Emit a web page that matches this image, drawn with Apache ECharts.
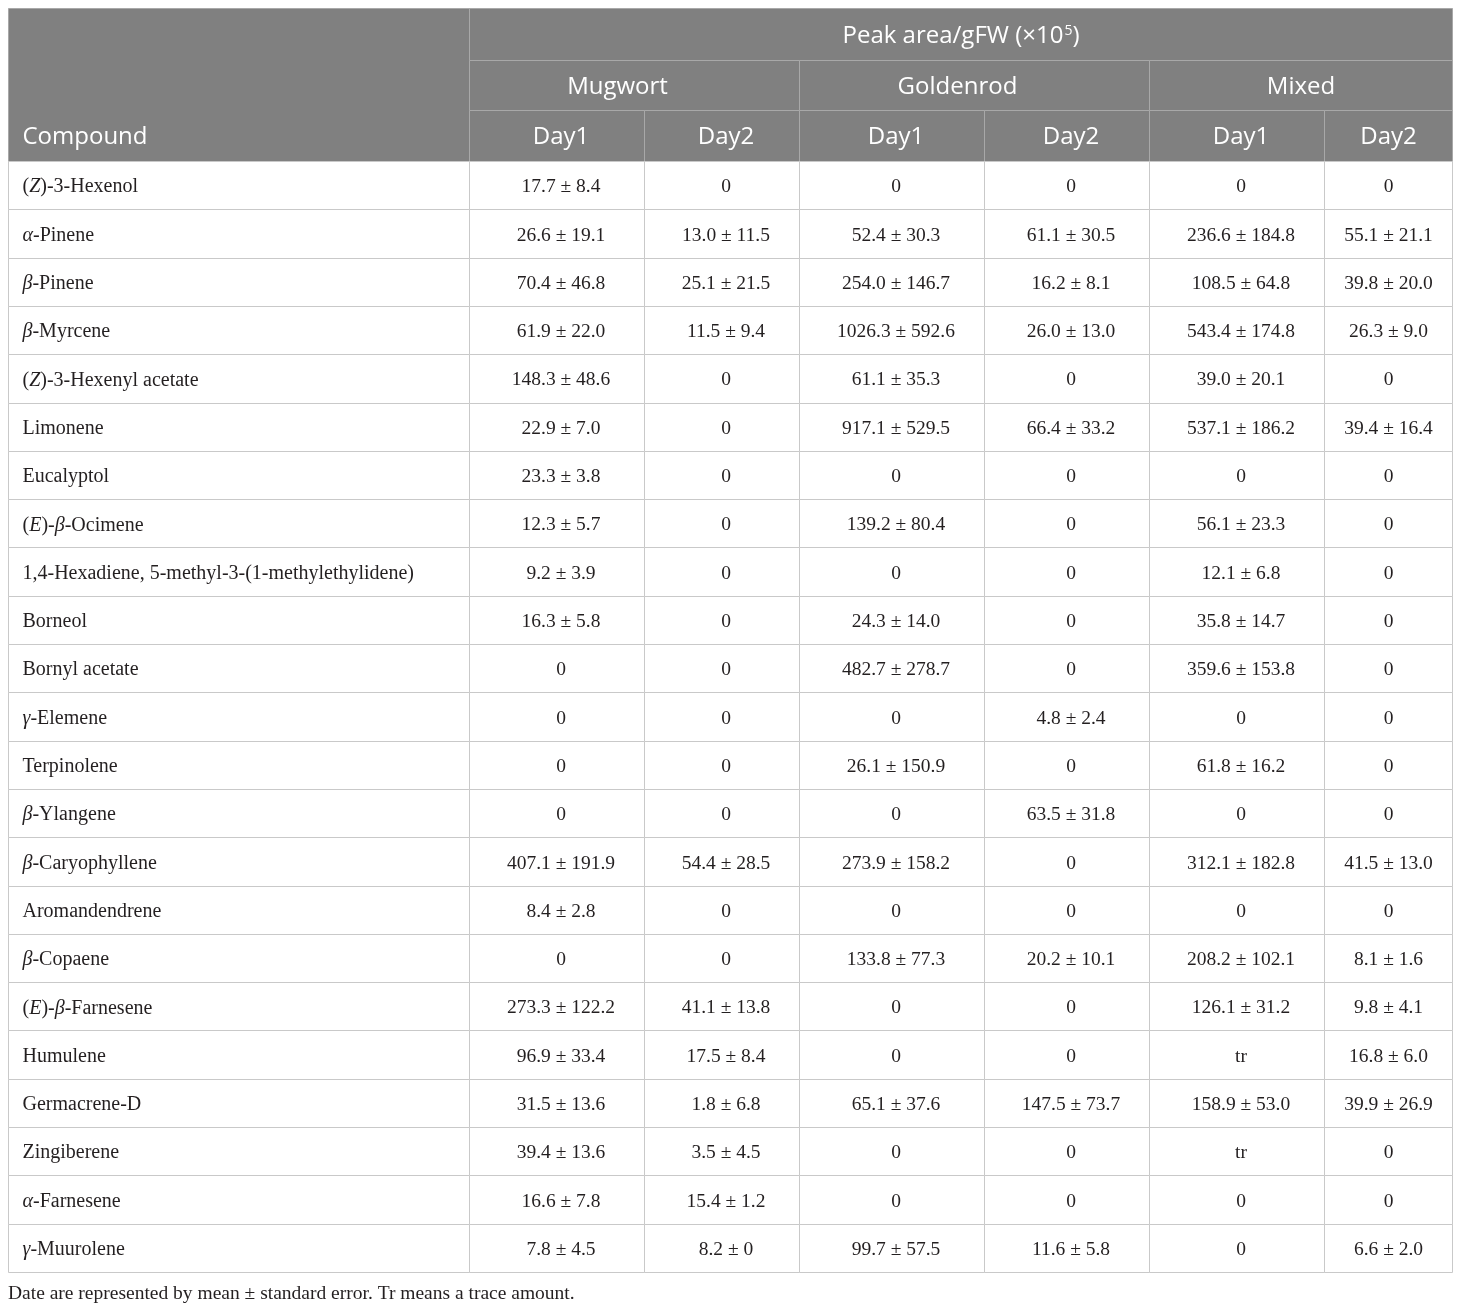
<!DOCTYPE html>
<html>
<head>
<meta charset="utf-8">
<script src="https://cdn.jsdelivr.net/npm/echarts@6/dist/echarts.min.js"></script>
<style>html,body{margin:0;padding:0;background:#fff}#chart{width:1460px;height:1310px}</style>
</head>
<body>
<div id="chart"></div>
<script>
// ---------- data ----------
const compounds = [
  '(Z)-3-Hexenol', 'α-Pinene', 'β-Pinene', 'β-Myrcene', '(Z)-3-Hexenyl acetate',
  'Limonene', 'Eucalyptol', '(E)-β-Ocimene', '1,4-Hexadiene, 5-methyl-3-(1-methylethylidene)',
  'Borneol', 'Bornyl acetate', 'γ-Elemene', 'Terpinolene', 'β-Ylangene', 'β-Caryophyllene',
  'Aromandendrene', 'β-Copaene', '(E)-β-Farnesene', 'Humulene', 'Germacrene-D',
  'Zingiberene', 'α-Farnesene', 'γ-Muurolene'
];
const mugwortDay1 = ['17.7 ± 8.4','26.6 ± 19.1','70.4 ± 46.8','61.9 ± 22.0','148.3 ± 48.6','22.9 ± 7.0','23.3 ± 3.8','12.3 ± 5.7','9.2 ± 3.9','16.3 ± 5.8','0','0','0','0','407.1 ± 191.9','8.4 ± 2.8','0','273.3 ± 122.2','96.9 ± 33.4','31.5 ± 13.6','39.4 ± 13.6','16.6 ± 7.8','7.8 ± 4.5'];
const mugwortDay2 = ['0','13.0 ± 11.5','25.1 ± 21.5','11.5 ± 9.4','0','0','0','0','0','0','0','0','0','0','54.4 ± 28.5','0','0','41.1 ± 13.8','17.5 ± 8.4','1.8 ± 6.8','3.5 ± 4.5','15.4 ± 1.2','8.2 ± 0'];
const goldenrodDay1 = ['0','52.4 ± 30.3','254.0 ± 146.7','1026.3 ± 592.6','61.1 ± 35.3','917.1 ± 529.5','0','139.2 ± 80.4','0','24.3 ± 14.0','482.7 ± 278.7','0','26.1 ± 150.9','0','273.9 ± 158.2','0','133.8 ± 77.3','0','0','65.1 ± 37.6','0','0','99.7 ± 57.5'];
const goldenrodDay2 = ['0','61.1 ± 30.5','16.2 ± 8.1','26.0 ± 13.0','0','66.4 ± 33.2','0','0','0','0','0','4.8 ± 2.4','0','63.5 ± 31.8','0','0','20.2 ± 10.1','0','0','147.5 ± 73.7','0','0','11.6 ± 5.8'];
const mixedDay1 = ['0','236.6 ± 184.8','108.5 ± 64.8','543.4 ± 174.8','39.0 ± 20.1','537.1 ± 186.2','0','56.1 ± 23.3','12.1 ± 6.8','35.8 ± 14.7','359.6 ± 153.8','0','61.8 ± 16.2','0','312.1 ± 182.8','0','208.2 ± 102.1','126.1 ± 31.2','tr','158.9 ± 53.0','tr','0','0'];
const mixedDay2 = ['0','55.1 ± 21.1','39.8 ± 20.0','26.3 ± 9.0','0','39.4 ± 16.4','0','0','0','0','0','0','0','0','41.5 ± 13.0','0','8.1 ± 1.6','9.8 ± 4.1','16.8 ± 6.0','39.9 ± 26.9','0','0','6.6 ± 2.0'];
const groupLabels = ['Mugwort', 'Goldenrod', 'Mixed'];
const dayLabels = ['Day1', 'Day2'];
const unitLabel = 'Peak area/gFW (×10{sup|5})';
const firstColumnLabel = 'Compound';
const footnote = 'Date are represented by mean ± standard error. Tr means a trace amount.';

// ---------- layout ----------
const TABLE_W = 1444, TABLE_H = 1264;
const colEdges = [0, 461, 636, 791, 976, 1141, 1316, 1444];
const headerEdges = [0, 52, 102, 153];
const columnTextShift = [0, 4, 4, 4, 4, 4, 0];
const groupTextShift = [-17, -17, 0];
const rowH = (TABLE_H - headerEdges[3]) / compounds.length;
const HEADER_FONT = '"Open Sans", "Noto Sans", sans-serif';
const BODY_FONT = '"Liberation Serif", "Times New Roman", serif';

const valueColumns = [mugwortDay1, mugwortDay2, goldenrodDay1, goldenrodDay2, mixedDay1, mixedDay2];

function fmtName(s) {
  return s.replace(/\((Z|E)\)/g, '({i|$1})').replace(/([αβγ])/g, '{i|$1}');
}

const cells = [];
// header
cells.push({x0: colEdges[0], x1: colEdges[1], y0: headerEdges[0], y1: headerEdges[3],
  ty: (headerEdges[2] + headerEdges[3]) / 2, text: firstColumnLabel, header: true, align: 'left', size: 24});
cells.push({x0: colEdges[1], x1: colEdges[7], y0: headerEdges[0], y1: headerEdges[1],
  text: unitLabel, header: true, align: 'center', size: 24});
groupLabels.forEach((g, gi) => {
  cells.push({x0: colEdges[1 + gi * 2], x1: colEdges[3 + gi * 2], y0: headerEdges[1], y1: headerEdges[2],
    text: g, header: true, align: 'center', size: 24, shift: groupTextShift[gi]});
  dayLabels.forEach((d, di) => {
    const c = 1 + gi * 2 + di;
    cells.push({x0: colEdges[c], x1: colEdges[c + 1], y0: headerEdges[2], y1: headerEdges[3],
      text: d, header: true, align: 'center', size: 24, shift: columnTextShift[c]});
  });
});
// body
compounds.forEach((name, ri) => {
  const y0 = headerEdges[3] + ri * rowH, y1 = y0 + rowH;
  cells.push({x0: colEdges[0], x1: colEdges[1], y0, y1, text: fmtName(name), header: false, align: 'left', size: 20});
  valueColumns.forEach((col, ci) => {
    cells.push({x0: colEdges[ci + 1], x1: colEdges[ci + 2], y0, y1, text: col[ri], header: false,
      align: 'center', size: 19.5, shift: columnTextShift[ci + 1]});
  });
});

function renderItem(params, api) {
  const c = cells[params.dataIndex];
  const p0 = api.coord([c.x0, c.y0]);
  const p1 = api.coord([c.x1, c.y1]);
  const x0 = Math.round(p0[0]) + 0.5, y0 = Math.round(p0[1]) + 0.5;
  const x1 = Math.round(p1[0]) + 0.5, y1 = Math.round(p1[1]) + 0.5;
  const ty = c.ty !== undefined ? api.coord([0, c.ty])[1] : (p0[1] + p1[1]) / 2;
  const tx = c.align === 'left' ? x0 + 14 : (x0 + x1) / 2 + (c.shift || 0);
  const fontSize = c.size;
  return {
    type: 'group',
    children: [
      {
        type: 'rect',
        shape: {x: x0, y: y0, width: x1 - x0, height: y1 - y0},
        style: {fill: c.header ? '#808080' : '#ffffff', stroke: c.header ? '#a8a8a8' : '#c9c9c9', lineWidth: 1}
      },
      {
        type: 'text',
        style: {
          x: tx, y: ty + 2,
          text: c.text,
          align: c.align, verticalAlign: 'middle',
          fontFamily: c.header ? HEADER_FONT : BODY_FONT,
          fontSize: fontSize,
          fill: c.header ? '#ffffff' : '#231f20',
          rich: {
            i: {fontStyle: 'italic', fontFamily: BODY_FONT, fontSize: fontSize, fill: '#231f20'},
            sup: {fontSize: 14, fontFamily: HEADER_FONT, fill: '#ffffff', verticalAlign: 'top',
                  padding: [0, 0, 3, 1]}
          }
        }
      }
    ]
  };
}

const chart = echarts.init(document.getElementById('chart'), null, {renderer: 'canvas'});
chart.setOption({
  animation: false,
  backgroundColor: '#ffffff',
  title: {
    text: footnote, left: 8, top: 1284, padding: 0,
    textStyle: {fontFamily: BODY_FONT, fontSize: 19.5, fontWeight: 'normal', color: '#231f20'}
  },
  grid: {left: 8, top: 8, width: TABLE_W, height: TABLE_H},
  xAxis: {type: 'value', min: 0, max: TABLE_W, show: false},
  yAxis: {type: 'value', min: 0, max: TABLE_H, inverse: true, show: false},
  series: [{
    type: 'custom',
    renderItem: renderItem,
    clip: false,
    data: cells.map(c => [(c.x0 + c.x1) / 2, (c.y0 + c.y1) / 2])
  }]
});
</script>
</body>
</html>
